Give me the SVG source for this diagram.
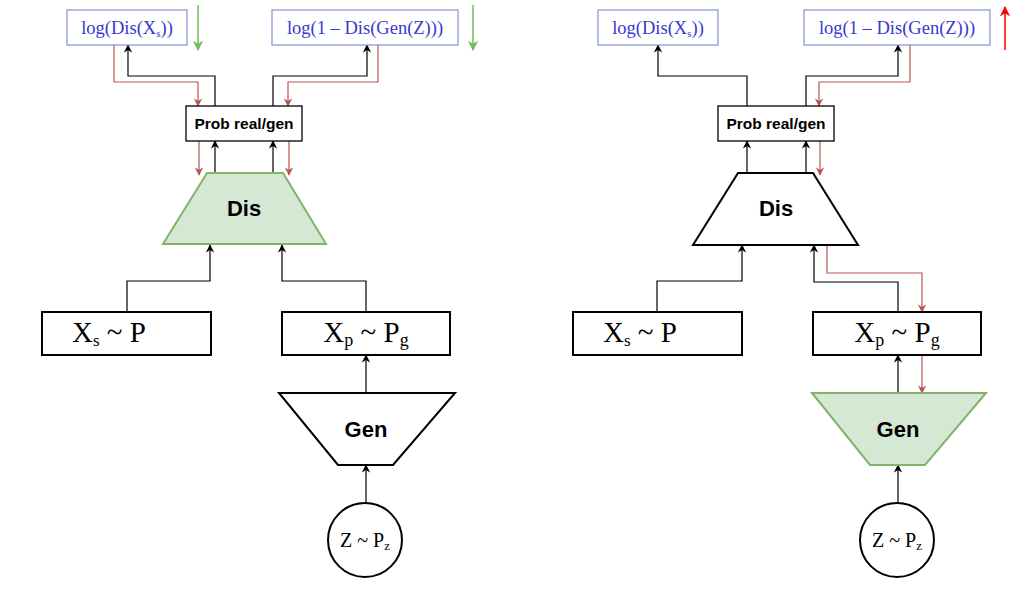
<svg xmlns="http://www.w3.org/2000/svg" width="1020" height="599" viewBox="0 0 1020 599">
<defs>
<marker id="ab" viewBox="0 0 10 10" refX="9" refY="5" markerWidth="7" markerHeight="7" orient="auto"><path d="M0,0 L10,5 L0,10 L3,5 z" fill="#000"/></marker>
<marker id="ar" viewBox="0 0 10 10" refX="9" refY="5" markerWidth="7" markerHeight="7" orient="auto"><path d="M0,0 L10,5 L0,10 L3,5 z" fill="#b85450"/></marker>
<marker id="ag" viewBox="0 0 10 10" refX="9" refY="5" markerWidth="7" markerHeight="7" orient="auto"><path d="M0,0 L10,5 L0,10 L3,5 z" fill="#6cbf5c"/></marker>
<marker id="aR" viewBox="0 0 10 10" refX="9" refY="5" markerWidth="7" markerHeight="7" orient="auto"><path d="M0,0 L10,5 L0,10 L3,5 z" fill="#ff0000"/></marker>
</defs>
<style>
.logbox{fill:#fff;stroke:#8a9ad8;stroke-width:1.3}
.logtxt{font-family:"Liberation Serif",serif;font-size:18.5px;fill:#3838d0}
.box{fill:#fff;stroke:#000;stroke-width:2}
.pbox{fill:#fff;stroke:#000;stroke-width:1.3}
.ptxt{font-family:"Liberation Sans",Arial,sans-serif;font-weight:bold;font-size:15.5px;fill:#000}
.big{font-family:"Liberation Sans",Arial,sans-serif;font-weight:bold;font-size:22px;fill:#000}
.serif{font-family:"Liberation Serif",serif;fill:#000}
.trapG{fill:#d5e8d4;stroke:#82b366;stroke-width:2}
.trapW{fill:#fff;stroke:#000;stroke-width:2}
.cb{fill:none;stroke:#000;stroke-width:1.2;marker-end:url(#ab)}
.cr{fill:none;stroke:#b85450;stroke-width:1.2;marker-end:url(#ar)}
.cg{fill:none;stroke:#6cbf5c;stroke-width:1.5;marker-end:url(#ag)}
.cR{fill:none;stroke:#ff0000;stroke-width:1.5;marker-end:url(#aR)}
</style>
<rect width="1020" height="599" fill="#fff"/>

<g id="connectors">
<path class="cg" d="M198,5 V50"/>
<path class="cg" d="M473,5 V50"/>
<path class="cb" d="M215,106 V76 H128 V45"/>
<path class="cr" d="M114,45 V82 H198 V106"/>
<path class="cb" d="M273,106 V76 H367 V45"/>
<path class="cr" d="M378,45 V82 H288 V106"/>
<path class="cr" d="M199,141 V175"/>
<path class="cr" d="M289,141 V175"/>
<path class="cb" d="M215,173 V141"/>
<path class="cb" d="M273,173 V141"/>
<path class="cb" d="M127,312 V281 H210 V245"/>
<path class="cb" d="M366,312 V281 H282 V245"/>
<path class="cb" d="M366,393 V355"/>
<path class="cb" d="M366,503 V465"/>
<path class="cR" d="M1005,50 V7"/>
<path class="cb" d="M747,106 V76 H658 V45"/>
<path class="cb" d="M806,106 V76 H898 V45"/>
<path class="cr" d="M910,45 V82 H819 V106"/>
<path class="cr" d="M820,141 V175"/>
<path class="cb" d="M747,173 V141"/>
<path class="cb" d="M806,173 V141"/>
<path class="cb" d="M657,312 V281 H742 V245"/>
<path class="cb" d="M898,312 V282 H814 V245"/>
<path class="cr" d="M827,245 V273 H922 V312"/>
<path class="cb" d="M898,393 V355"/>
<path class="cr" d="M922,355 V393"/>
<path class="cb" d="M898,503 V465"/>
</g>

<g id="logL1">
<rect class="logbox" x="67" y="10" width="120" height="35"/>
<text class="logtxt" x="127" y="34" text-anchor="middle">log(Dis(X<tspan font-size="11" dy="3">s</tspan><tspan dy="-3">))</tspan></text>
</g>
<g id="logL2">
<rect class="logbox" x="272" y="10" width="186" height="35"/>
<text class="logtxt" x="365" y="34" text-anchor="middle">log(1 – Dis(Gen(Z)))</text>
</g>
<g id="probL">
<rect class="pbox" x="186" y="106" width="116" height="35"/>
<text class="ptxt" x="244" y="129" text-anchor="middle">Prob real/gen</text>
</g>
<g id="disL">
<polygon class="trapG" points="207,173 283,173 326,244 163,244"/>
<text class="big" x="244" y="216" text-anchor="middle">Dis</text>
</g>
<g id="xsL">
<rect class="box" x="42" y="312" width="169" height="43"/>
<text class="serif" x="72" y="342" font-size="29">X<tspan font-size="17" dy="4">s</tspan><tspan dy="-4"> ~ P</tspan></text>
</g>
<g id="xpL">
<rect class="box" x="282" y="312" width="168" height="43"/>
<text class="serif" x="366" y="342" font-size="29" text-anchor="middle">X<tspan font-size="18" dy="4">p</tspan><tspan dy="-4"> ~ P</tspan><tspan font-size="18" dy="4">g</tspan></text>
</g>
<g id="genL">
<polygon class="trapW" points="279,393 455,393 393,465 338,465"/>
<text class="big" x="366" y="437" text-anchor="middle">Gen</text>
</g>
<g id="zL">
<circle cx="365" cy="540" r="37" fill="#fff" stroke="#000" stroke-width="2"/>
<text class="serif" x="365" y="547" font-size="20" text-anchor="middle">Z ~ P<tspan font-size="13" dy="3">z</tspan></text>
</g>

<g id="logR1">
<rect class="logbox" x="598" y="10" width="120" height="35"/>
<text class="logtxt" x="658" y="34" text-anchor="middle">log(Dis(X<tspan font-size="11" dy="3">s</tspan><tspan dy="-3">))</tspan></text>
</g>
<g id="logR2">
<rect class="logbox" x="804" y="10" width="186" height="35"/>
<text class="logtxt" x="897" y="34" text-anchor="middle">log(1 – Dis(Gen(Z)))</text>
</g>
<g id="probR">
<rect class="pbox" x="718" y="106" width="116" height="35"/>
<text class="ptxt" x="776" y="129" text-anchor="middle">Prob real/gen</text>
</g>
<g id="disR">
<polygon class="trapW" points="738,173 813,173 858,245 693,245"/>
<text class="big" x="776" y="216" text-anchor="middle">Dis</text>
</g>
<g id="xsR">
<rect class="box" x="573" y="312" width="169" height="43"/>
<text class="serif" x="603" y="342" font-size="29">X<tspan font-size="17" dy="4">s</tspan><tspan dy="-4"> ~ P</tspan></text>
</g>
<g id="xpR">
<rect class="box" x="813" y="312" width="168" height="43"/>
<text class="serif" x="897" y="342" font-size="29" text-anchor="middle">X<tspan font-size="18" dy="4">p</tspan><tspan dy="-4"> ~ P</tspan><tspan font-size="18" dy="4">g</tspan></text>
</g>
<g id="genR">
<polygon class="trapG" points="812,393 986,393 925,465 870,465"/>
<text class="big" x="898" y="437" text-anchor="middle">Gen</text>
</g>
<g id="zR">
<circle cx="897" cy="540" r="37" fill="#fff" stroke="#000" stroke-width="2"/>
<text class="serif" x="897" y="547" font-size="20" text-anchor="middle">Z ~ P<tspan font-size="13" dy="3">z</tspan></text>
</g>
</svg>
